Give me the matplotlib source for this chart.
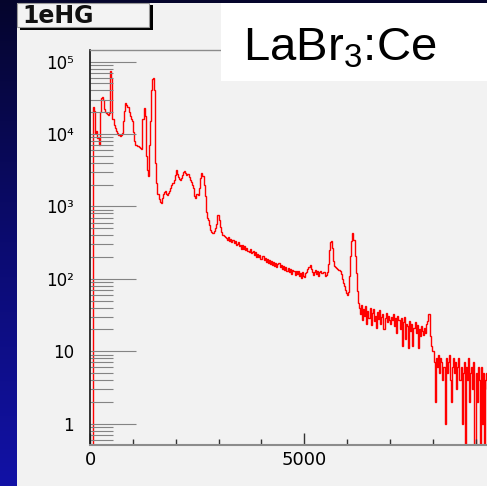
import numpy as np
import matplotlib
matplotlib.use("Agg")
import matplotlib.pyplot as plt
from matplotlib.patches import Rectangle
from matplotlib.colors import LinearSegmentedColormap
from matplotlib.ticker import FixedLocator, FixedFormatter, NullFormatter

# ---- spectrum: counts per 25-channel bin, starting at channel 0 ----
BIN_WIDTH = 25
counts = [
    # 0 - 1000
    0, 0, 0, 24000, 21000, 10500, 11000, 8900, 7100, 20000,
    32000, 33000, 29500, 22000, 20500, 19500, 19000, 18500, 19500, 75000,
    60000, 16000, 13500, 12000, 11000, 10200, 9800, 9600, 9500, 9600,
    10300, 15000, 21000, 27000, 25500, 23500, 20000, 17500, 16300, 15200,
    # 1000 - 2000
    10700, 7900, 7100, 7000, 6850, 6750, 6600, 6450, 6200, 16000,
    23000, 17500, 5000, 3200, 2600, 7100, 15000, 40000, 57500, 59000,
    40000, 4000, 2100, 1510, 1260, 1170, 1120, 1290, 1480, 1580,
    1620, 1510, 1450, 1550, 1620, 1780, 1950, 2140, 2340, 2690,
    # 2000 - 3000
    3230, 2820, 2570, 2400, 2340, 2510, 2750, 2950, 3090, 2880,
    2750, 2820, 2570, 2340, 2190, 2000, 1780, 1380, 1320, 1510,
    1480, 1450, 1780, 2510, 2880, 2630, 2000, 1410, 830, 690,
    645, 560, 480, 437, 427, 427, 457, 500, 575, 760,
    # 3000 - 4000
    660, 525, 437, 407, 398, 389, 376, 363, 340, 378,
    331, 358, 322, 347, 310, 334, 298, 306, 318, 280,
    290, 262, 291, 255, 281, 247, 270, 240, 233, 259,
    226, 236, 242, 212, 233, 203, 224, 198, 216, 190,
    # 4000 - 5000
    187, 208, 180, 195, 172, 189, 166, 181, 160, 178,
    156, 172, 150, 166, 146, 162, 163, 145, 157, 138,
    151, 132, 147, 130, 127, 143, 123, 137, 117, 133,
    128, 114, 130, 115, 127, 108, 122, 104, 124, 110,
    # 5000 - 6000
    106, 120, 124, 136, 146, 154, 135, 124, 112, 126,
    131, 115, 128, 110, 124, 129, 119, 121, 124, 108,
    113, 124, 160, 250, 320, 335, 270, 175, 150, 146,
    141, 138, 134, 130, 118, 100, 88, 80, 70, 64,
    # 6000 - 7000
    59, 66, 110, 210, 330, 425, 345, 210, 120, 68,
    46, 40, 33, 44, 27, 38, 31, 42, 24, 36,
    29, 40, 23, 34, 38, 26, 31, 21, 35, 28,
    37, 24, 30, 33, 20, 29, 34, 25, 31, 27,
    # 7000 - 8000
    24, 30, 27, 33, 22, 29, 18, 31, 27, 20,
    29, 12, 25, 30, 15, 24, 22, 11, 26, 19,
    24, 12, 21, 25, 18, 23, 11, 20, 16, 22,
    19, 17, 21, 18, 24, 26, 33, 16, 12, 10,
    # 8000 - 9000
    10, 7, 2, 8, 6, 9, 5, 8, 7, 4,
    6, 1, 8, 5, 7, 9, 4, 2, 6, 8,
    5, 7, 3, 6, 8, 4, 6, 1, 5, 7,
    0, 6, 4, 8, 2, 5, 6, 3, 7, 0,
    # 9000 - 9500
    5, 2, 6, 4, 0, 6, 1, 5, 0, 4,
    5, 3, 4, 2, 5, 3, 6, 0, 4, 3,
]

y_major = [1, 10, 100, 1000, 10000, 100000]
y_labels = ["1", "10", "10²", "10³", "10⁴", "10⁵"]
x_major = [0, 5000, 10000]
x_labels = ["0", "5000", "10000"]
x_minor = [1000, 2000, 3000, 4000, 6000, 7000, 8000, 9000]
hist_name = "1eHG"
crystal = r"LaBr$_\mathrm{3}$:Ce"

plt.rcParams["mathtext.fontset"] = "custom"
plt.rcParams["mathtext.rm"] = "Liberation Sans"
plt.rcParams["mathtext.it"] = "Liberation Sans:italic"
plt.rcParams["mathtext.bf"] = "Liberation Sans:bold"

W, H = 487, 486
fig = plt.figure(figsize=(W / 100, H / 100), dpi=100)

# ---- slide background and canvas panel (pixel coordinates) ----
bg = fig.add_axes([0, 0, 1, 1], zorder=0)
grad = np.linspace(0, 1, 256)[:, None]
cmap = LinearSegmentedColormap.from_list("slide", ["#05052c", "#0b0b70", "#1212a6"])
bg.imshow(grad, cmap=cmap, extent=[0, W, H, 0], aspect="auto")
bg.add_patch(Rectangle((17, 3), W - 17, H - 3, facecolor="#f2f2f2", edgecolor="none"))
bg.set_xlim(0, W)
bg.set_ylim(H, 0)
bg.axis("off")

# ---- histogram axes ----
px_per_unit = 0.04284
xmax = 10500
ax = fig.add_axes([90 / W, 41 / H, xmax * px_per_unit / W, 395 / H], zorder=1)
ax.set_facecolor("none")
ax.set_yscale("log")

vals = np.clip(np.asarray(counts, dtype=float), 1e-2, None)
edges = np.arange(len(counts) + 1) * BIN_WIDTH
ax.stairs(vals, edges, baseline=None, color="#ff0000", linewidth=1.0)

ax.set_xlim(0, xmax)
ax.set_ylim(0.507, 1.45e5)

ax.yaxis.set_major_locator(FixedLocator(y_major))
ax.yaxis.set_major_formatter(FixedFormatter(y_labels))
ax.yaxis.set_minor_locator(FixedLocator([m * 10.0 ** k for k in range(-1, 5) for m in range(2, 10)]))
ax.yaxis.set_minor_formatter(NullFormatter())
ax.xaxis.set_major_locator(FixedLocator(x_major))
ax.xaxis.set_major_formatter(FixedFormatter(x_labels))
ax.xaxis.set_minor_locator(FixedLocator(x_minor))
ax.xaxis.set_minor_formatter(NullFormatter())

ax.tick_params(axis="y", which="major", direction="in", length=33, width=0.8,
               color="#848484", pad=11.5, labelsize=12)
ax.tick_params(axis="y", which="minor", direction="in", length=16.5, width=0.8,
               color="#848484")
ax.tick_params(axis="x", which="major", direction="in", length=8.4, width=1.0,
               color="#333333", pad=4.5, labelsize=13)
ax.tick_params(axis="x", which="minor", direction="in", length=4.2, width=1.0,
               color="#333333")

ax.spines["left"].set_color("#111111")
ax.spines["left"].set_linewidth(1.2)
ax.spines["bottom"].set_color("#8c8c8c")
ax.spines["bottom"].set_linewidth(1.5)
ax.spines["top"].set_color("#8c8c8c")
ax.spines["top"].set_linewidth(1.0)
ax.spines["right"].set_visible(False)

# ---- title box and material label ----
ov = fig.add_axes([0, 0, 1, 1], zorder=2)
ov.set_xlim(0, W)
ov.set_ylim(H, 0)
ov.axis("off")
ov.add_patch(Rectangle((20, 5), 133, 25, facecolor="#000000", edgecolor="none"))
ov.add_patch(Rectangle((17, 3), 132, 24, facecolor="#f3f3f3", edgecolor="#9a9a9a", linewidth=0.8))
ov.text(22, 23, hist_name, fontsize=17, fontweight="bold", family="DejaVu Sans",
        va="baseline", ha="left", color="#111111")
ov.add_patch(Rectangle((221, 3), W - 221, 78, facecolor="#ffffff", edgecolor="none"))
ov.text(243, 61, crystal, fontsize=34, family="Liberation Sans",
        va="baseline", ha="left", color="#000000")

fig.savefig("out.png", dpi=100)
